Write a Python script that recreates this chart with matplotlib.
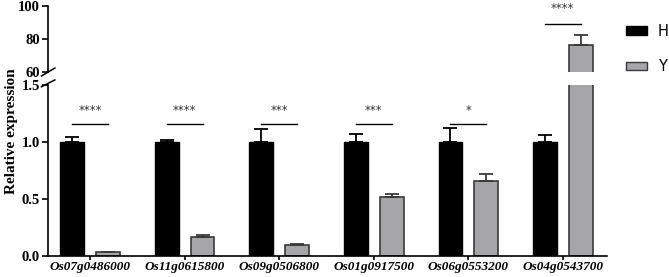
import numpy as np
import matplotlib.pyplot as plt
from matplotlib.patches import Patch

genes = ['Os07g0486000', 'Os11g0615800', 'Os09g0506800',
         'Os01g0917500', 'Os06g0553200', 'Os04g0543700']
h_vals = [1.0, 1.0, 1.0, 1.0, 1.0, 1.0]
h_err = [0.04, 0.02, 0.11, 0.07, 0.12, 0.06]
y_vals = [0.03, 0.16, 0.09, 0.52, 0.66, 76.4]
y_err = [0.005, 0.02, 0.01, 0.02, 0.06, 6.0]
stars = ['****', '****', '***', '***', '*', '****']

h_color = '#000000'
y_color = '#a6a6a8'
serif = 'Liberation Serif'

fig = plt.figure(figsize=(6.69, 2.77), dpi=100)
ax_lo = fig.add_axes([0.072, 0.077, 0.835, 0.616])
ax_hi = fig.add_axes([0.072, 0.740, 0.835, 0.238], sharex=ax_lo)

x = np.arange(len(genes))
w = 0.25
off = 0.19

for ax in (ax_lo, ax_hi):
    ax.bar(x - off, h_vals, w, color=h_color, edgecolor='black', linewidth=1, zorder=2)
    ax.bar(x + off, y_vals, w, color=y_color, edgecolor='#3a3a3a', linewidth=1.2, zorder=2)
    ax.errorbar(x - off, h_vals, yerr=[np.zeros(len(x)), h_err], fmt='none',
                ecolor='black', elinewidth=1.3, capsize=5, capthick=1.3, zorder=3)
    ax.errorbar(x + off, y_vals, yerr=[np.zeros(len(x)), y_err], fmt='none',
                ecolor='#3a3a3a', elinewidth=1.3, capsize=5, capthick=1.3, zorder=3)
    ax.spines['top'].set_visible(False)
    ax.spines['right'].set_visible(False)
    ax.spines['left'].set_linewidth(1.2)
    ax.tick_params(axis='y', width=1.2, length=4, pad=2)

ax_lo.set_xlim(-0.444, 5.465)
ax_lo.set_ylim(0, 1.5)
ax_lo.set_yticks([0.0, 0.5, 1.0, 1.5])
ax_lo.set_yticklabels(['0.0', '0.5', '1.0', '1.5'], fontfamily=serif,
                      fontweight='bold', fontsize=10.5)
ax_lo.set_xticks(x)
ax_lo.set_xticklabels(genes, fontfamily=serif, fontweight='bold',
                      fontstyle='italic', fontsize=9.5)
ax_lo.spines['bottom'].set_linewidth(1.2)
ax_lo.tick_params(axis='x', width=1.2, length=3, pad=1)

ax_hi.set_ylim(60, 100)
ax_hi.set_yticks([60, 80, 100])
ax_hi.set_yticklabels(['60', '80', '100'], fontfamily=serif,
                      fontweight='bold', fontsize=10.5)
ax_hi.spines['bottom'].set_visible(False)
ax_hi.tick_params(axis='x', bottom=False, labelbottom=False)

# break marks
d = 0.012
kw = dict(color='black', lw=1.1, clip_on=False)
ax_hi.plot([-d, d], [-0.06, 0.06], transform=ax_hi.transAxes, **kw)
ax_lo.plot([-d, d], [0.99, 1.03], transform=ax_lo.transAxes, **kw)

# significance
for i, s in enumerate(stars):
    if i < 5:
        ax_lo.plot([i - off, i + off], [1.155, 1.155], color='black', lw=1)
        ax_lo.text(i, 1.28, s, ha='center', va='center', fontsize=8.5, color='#333333')
    else:
        ax_hi.plot([i - off, i + off], [89, 89], color='black', lw=1)
        ax_hi.text(i, 98.5, s, ha='center', va='center', fontsize=8.5,
                   color='#333333', clip_on=False)

fig.text(0.017, 0.527, 'Relative expression', rotation=90, ha='center', va='center',
         fontfamily=serif, fontweight='bold', fontsize=11)

handles = [Patch(facecolor=h_color, edgecolor='black', label='H'),
           Patch(facecolor=y_color, edgecolor='#3a3a3a', label='Y')]
fig.legend(handles=handles, loc='upper left', bbox_to_anchor=(0.936, 0.915),
           frameon=False, fontsize=10.5, handlelength=1.45, handleheight=0.5,
           labelspacing=1.4, handletextpad=0.7, borderaxespad=0, borderpad=0)

fig.savefig('out.png', dpi=100)
